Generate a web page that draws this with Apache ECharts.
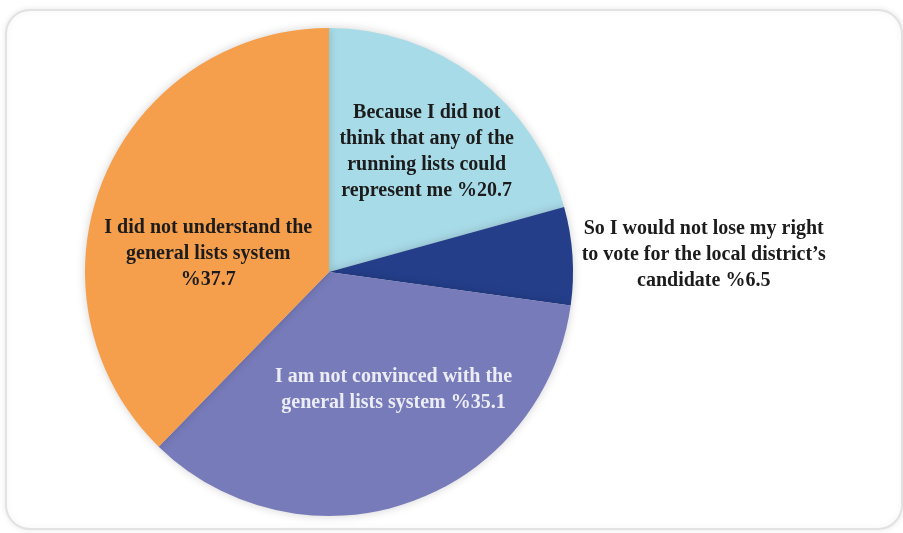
<!DOCTYPE html>
<html>
<head>
<meta charset="utf-8">
<script src="https://cdn.jsdelivr.net/npm/echarts@6/dist/echarts.min.js"></script>
<style>
  html, body { margin: 0; padding: 0; background: #ffffff; }
  #chart { width: 903px; height: 533px; }
</style>
</head>
<body>
<div id="chart"></div>
<script>
// Reasons for not voting for a general list (share of respondents, %)
const categories = [
  'Because I did not\nthink that any of the\nrunning lists could\nrepresent me',
  'So I would not lose my right\nto vote for the local district\u2019s\ncandidate',
  'I am not convinced with the\ngeneral lists system',
  'I did not understand the\ngeneral lists system\n'
];
const values = [20.7, 6.5, 35.1, 37.7];
const sliceColors = ['#A8DBE8', '#243E8A', '#777BBA', '#F59E4B'];
const labelColors = ['#1c1c1c', '#1c1c1c', '#ececf4', '#1c1c1c'];
// label nudges relative to the default inside position
const labelShift = [[22, -21], [250, -9], [24, 0], [-5, 29]];

const chart = echarts.init(document.getElementById('chart'), null, { renderer: 'canvas' });

chart.setOption({
  backgroundColor: '#ffffff',
  animation: false,
  graphic: [{
    type: 'rect',
    shape: { x: 6, y: 10, width: 896, height: 519, r: 24 },
    style: {
      fill: '#ffffff',
      stroke: '#e2e2e2',
      lineWidth: 2,
      shadowBlur: 6,
      shadowColor: 'rgba(0,0,0,0.08)'
    },
    z: -10
  }],
  series: [{
    type: 'pie',
    center: [329, 272],
    radius: [0, 244],
    startAngle: 90,
    clockwise: true,
    silent: true,
    itemStyle: {
      borderWidth: 0,
      shadowBlur: 10,
      shadowColor: 'rgba(0,0,0,0.18)'
    },
    label: {
      show: true,
      position: 'inside',
      fontFamily: '"Liberation Serif", "DejaVu Serif", serif',
      fontWeight: 'bold',
      fontSize: 20,
      lineHeight: 26,
      align: 'center',
      formatter: p => p.name + (p.name.endsWith('\n') ? '' : ' ') + '%' + p.value
    },
    labelLine: { show: false },
    labelLayout: p => ({ dx: labelShift[p.dataIndex][0], dy: labelShift[p.dataIndex][1] }),
    data: values.map((v, i) => ({
      name: categories[i],
      value: v,
      itemStyle: { color: sliceColors[i] },
      label: { color: labelColors[i] }
    }))
  }]
});
</script>
</body>
</html>
